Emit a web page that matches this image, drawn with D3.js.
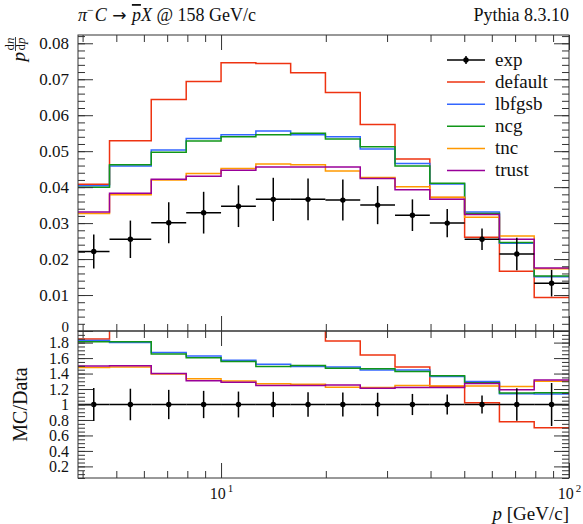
<!DOCTYPE html>
<html>
<head>
<meta charset="utf-8">
<script src="https://cdn.jsdelivr.net/npm/d3@7/dist/d3.min.js"></script>
<style>
  html, body { margin: 0; padding: 0; background: #fff; }
  svg { display: block; }
  text { font-family: "Liberation Serif", "DejaVu Serif", serif; fill: #111; }
  .domain { display: none; }
  .tick line { stroke: #333; stroke-width: 1; }
</style>
</head>
<body>
<svg id="chart" width="583" height="524"></svg>
<script>
// Bin edges in p [GeV/c]
const binEdges = [3.88, 4.78, 6.3, 7.94, 10, 12.59, 15.85, 19.95, 25.12, 31.62, 39.81, 50.12, 63.1, 79.43, 100];

// Measured p dn/dp with uncertainties
const expValues = [0.0221, 0.0255, 0.0301, 0.0329, 0.0347, 0.0366, 0.0366, 0.0364, 0.0350, 0.0322, 0.0300, 0.0255, 0.0214, 0.0133];
const expErrors = [0.0047, 0.0052, 0.0057, 0.0058, 0.0058, 0.0060, 0.0058, 0.0057, 0.0053, 0.0044, 0.0039, 0.0030, 0.0045, 0.0037];

// Pythia predictions for each tune
const defaultValues = [0.0408, 0.0529, 0.0644, 0.0694, 0.0746, 0.0744, 0.0718, 0.0663, 0.0574, 0.0478, 0.0371, 0.0261, 0.0166, 0.0093];
const lbfgsbValues  = [0.0404, 0.0459, 0.0503, 0.0535, 0.0546, 0.0556, 0.0546, 0.0540, 0.0506, 0.0466, 0.0409, 0.0331, 0.0244, 0.0151];
const ncgValues     = [0.0400, 0.0462, 0.0497, 0.0528, 0.0540, 0.0546, 0.0550, 0.0534, 0.0512, 0.0459, 0.0411, 0.0327, 0.0246, 0.0153];
const tncValues     = [0.0327, 0.0379, 0.0420, 0.0438, 0.0452, 0.0464, 0.0462, 0.0445, 0.0427, 0.0401, 0.0372, 0.0316, 0.0264, 0.0173];
const trustValues   = [0.0331, 0.0383, 0.0422, 0.0430, 0.0447, 0.0456, 0.0456, 0.0456, 0.0424, 0.0393, 0.0366, 0.0324, 0.0255, 0.0175];

const seriesNames  = ["default", "lbfgsb", "ncg", "tnc", "trust"];
const seriesColors = ["#EE3311", "#3366FF", "#109618", "#FF9900", "#990099"];
const seriesValues = [defaultValues, lbfgsbValues, ncgValues, tncValues, trustValues];

const mainTickValues  = [0, 0.01, 0.02, 0.03, 0.04, 0.05, 0.06, 0.07, 0.08];
const ratioTickValues = [0.2, 0.4, 0.6, 0.8, 1, 1.2, 1.4, 1.6, 1.8];
const xMajorTicks = [10, 100];
const xMinorTicks = [4, 5, 6, 7, 8, 9, 20, 30, 40, 50, 60, 70, 80, 90];

// Layout
const L = 78, R = 569, mainTop = 35, mainBot = 331, ratioBot = 478;

const svg = d3.select("#chart");

const x  = d3.scaleLog().domain([3.88, 100]).range([L, R]);
const y  = d3.scaleLinear().domain([0, 0.0823]).range([mainBot, mainTop]);
const yr = d3.scaleLinear().domain([0.05, 1.95]).range([ratioBot, mainBot]);

const defs = svg.append("defs");
defs.append("clipPath").attr("id", "clipMain").append("rect")
  .attr("x", L).attr("y", mainTop).attr("width", R - L).attr("height", mainBot - mainTop);
defs.append("clipPath").attr("id", "clipRatio").append("rect")
  .attr("x", L).attr("y", mainBot).attr("width", R - L).attr("height", ratioBot - mainBot);

function stepPoints(vals) {
  const pts = [];
  vals.forEach((v, i) => { pts.push([binEdges[i], v]); pts.push([binEdges[i + 1], v]); });
  return pts;
}

function drawPanel(g, yScale, valueOf, errOf) {
  const line = d3.line().x(d => x(d[0])).y(d => yScale(d[1]));
  seriesValues.forEach((vals, k) => {
    g.append("path")
      .attr("d", line(stepPoints(vals.map((v, i) => valueOf(v, i)))))
      .attr("fill", "none")
      .attr("stroke", seriesColors[k])
      .attr("stroke-width", 1.5);
  });
  const pts = g.append("g");
  expValues.forEach((v, i) => {
    const xc = Math.sqrt(binEdges[i] * binEdges[i + 1]);
    const yv = valueOf(v, i, true), ye = errOf(i);
    pts.append("line")
      .attr("x1", x(binEdges[i])).attr("x2", x(binEdges[i + 1]))
      .attr("y1", yScale(yv)).attr("y2", yScale(yv))
      .attr("stroke", "#000").attr("stroke-width", 1.5);
    pts.append("line")
      .attr("x1", x(xc)).attr("x2", x(xc))
      .attr("y1", yScale(yv - ye)).attr("y2", yScale(yv + ye))
      .attr("stroke", "#000").attr("stroke-width", 1.5);
    pts.append("circle")
      .attr("cx", x(xc)).attr("cy", yScale(yv)).attr("r", 2.7).attr("fill", "#000");
  });
}

// Main panel
const gMain = svg.append("g").attr("clip-path", "url(#clipMain)");
drawPanel(gMain, y, v => v, i => expErrors[i]);

// Ratio panel: MC / data
const gRatio = svg.append("g").attr("clip-path", "url(#clipRatio)");
drawPanel(gRatio, yr, (v, i, isData) => isData ? 1 : v / expValues[i], i => expErrors[i] / expValues[i]);

// Frames
[[mainTop, mainBot], [mainBot, ratioBot]].forEach(([t, b]) => {
  svg.append("rect").attr("x", L).attr("y", t).attr("width", R - L).attr("height", b - t)
    .attr("fill", "none").attr("stroke", "#333").attr("stroke-width", 1);
});

// Axis helpers
function range(a, b, s) { const out = []; for (let v = a; v <= b + 1e-9; v += s) out.push(+v.toFixed(4)); return out; }
const mainMinor = range(0, 0.082, 0.002);
const ratioMinor = range(0.05, 1.95, 0.05);

function yAxes(scale, majors, minors, fmt, fs) {
  svg.append("g").attr("transform", `translate(${L},0)`)
    .call(d3.axisLeft(scale).tickValues(minors).tickSize(-7).tickFormat(""));
  const ga = svg.append("g").attr("transform", `translate(${L},0)`)
    .call(d3.axisLeft(scale).tickValues(majors).tickSize(-15).tickPadding(9).tickFormat(fmt));
  ga.selectAll(".tick text").attr("font-size", fs).attr("font-family", "Liberation Serif");
  svg.append("g").attr("transform", `translate(${R},0)`)
    .call(d3.axisRight(scale).tickValues(minors).tickSize(-7).tickFormat(""));
  svg.append("g").attr("transform", `translate(${R},0)`)
    .call(d3.axisRight(scale).tickValues(majors).tickSize(-15).tickFormat(""));
  return ga;
}
const mainAxis = yAxes(y, mainTickValues, mainMinor, d => d === 0 ? "0" : d3.format(".2f")(d), 17);
// the zero label sits right on the panel boundary; lift it clear of the ratio labels
mainAxis.selectAll(".tick text").filter(d => d === 0).attr("font-size", 15).attr("dy", "0.05em");
yAxes(yr, ratioTickValues, ratioMinor, d => d === 1 ? "1" : d3.format(".1f")(d), 16);

function xTicks(yPos, axisFn, withLabels) {
  svg.append("g").attr("transform", `translate(0,${yPos})`)
    .call(axisFn(x).tickValues(xMinorTicks).tickSize(-7).tickFormat(""));
  const ga = svg.append("g").attr("transform", `translate(0,${yPos})`)
    .call(axisFn(x).tickValues(xMajorTicks).tickSize(-15).tickPadding(8).tickFormat(""));
  if (withLabels) {
    ga.selectAll(".tick text").each(function (d) {
      const t = d3.select(this).attr("font-size", 16).attr("dy", "0.8em");
      t.append("tspan").text("10");
      t.append("tspan").attr("font-size", 11).attr("dy", "-0.6em").attr("dx", 2).text(Math.round(Math.log10(d)));
    });
  }
}
xTicks(mainTop, d3.axisTop, false);
xTicks(mainBot, d3.axisBottom, false);
xTicks(mainBot, d3.axisTop, false);
xTicks(ratioBot, d3.axisBottom, true);

// Title and generator label
const title = svg.append("text").attr("x", L).attr("y", 21).attr("font-size", 18);
title.append("tspan").attr("font-style", "italic").text("π");
title.append("tspan").attr("font-size", 12).attr("dy", -7).text("−");
title.append("tspan").attr("font-style", "italic").attr("dy", 7).attr("dx", 1).text("C");
title.append("tspan").attr("font-family", "DejaVu Sans").attr("font-size", 17).text(" → ");
title.append("tspan").attr("font-style", "italic").attr("text-decoration", "overline").text("p");
title.append("tspan").attr("font-style", "italic").text("X");
title.append("tspan").text(" @ 158 GeV/c");

svg.append("text").attr("x", R).attr("y", 21).attr("font-size", 18)
  .attr("text-anchor", "end").text("Pythia 8.3.10");

// Axis titles
const xl = svg.append("text").attr("x", R).attr("y", 520).attr("font-size", 19).attr("text-anchor", "end");
xl.append("tspan").attr("font-style", "italic").text("p");
xl.append("tspan").text(" [GeV/c]");

svg.append("text")
  .attr("transform", `translate(27,${yr(1)}) rotate(-90)`)
  .attr("text-anchor", "middle").attr("font-size", 20).text("MC/Data");

const yl = svg.append("g").attr("transform", `translate(25,37) rotate(-90)`);
yl.append("text").attr("x", -15).attr("y", 0).attr("text-anchor", "end")
  .attr("font-size", 19).attr("font-style", "italic").text("p");
yl.append("line").attr("x1", -14).attr("x2", 0).attr("y1", -9.5).attr("y2", -9.5)
  .attr("stroke", "#111").attr("stroke-width", 0.8);
const num = yl.append("text").attr("x", -7).attr("y", -11.5).attr("text-anchor", "middle").attr("font-size", 13);
num.append("tspan").text("d");
num.append("tspan").attr("font-style", "italic").text("n");
const den = yl.append("text").attr("x", -7).attr("y", -0.5).attr("text-anchor", "middle").attr("font-size", 13);
den.append("tspan").text("d");
den.append("tspan").attr("font-style", "italic").text("p");

// Legend
const legendX1 = 447, legendX2 = 485, legendText = 495, legendY0 = 60, legendDy = 22.1;
const lg = svg.append("g");
const entries = [{ name: "exp", color: "#000", data: true }]
  .concat(seriesNames.map((n, k) => ({ name: n, color: seriesColors[k] })));
entries.forEach((e, i) => {
  const yy = legendY0 + i * legendDy;
  lg.append("line").attr("x1", legendX1).attr("x2", legendX2).attr("y1", yy).attr("y2", yy)
    .attr("stroke", e.color).attr("stroke-width", 1.5);
  if (e.data) {
    const xm = (legendX1 + legendX2) / 2;
    lg.append("line").attr("x1", xm).attr("x2", xm).attr("y1", yy - 4).attr("y2", yy + 4)
      .attr("stroke", "#000").attr("stroke-width", 1.5);
    lg.append("circle").attr("cx", xm).attr("cy", yy).attr("r", 2.7).attr("fill", "#000");
  }
  lg.append("text").attr("x", legendText).attr("y", yy).attr("dy", "0.3em")
    .attr("font-size", 19).text(e.name);
});
</script>
</body>
</html>
